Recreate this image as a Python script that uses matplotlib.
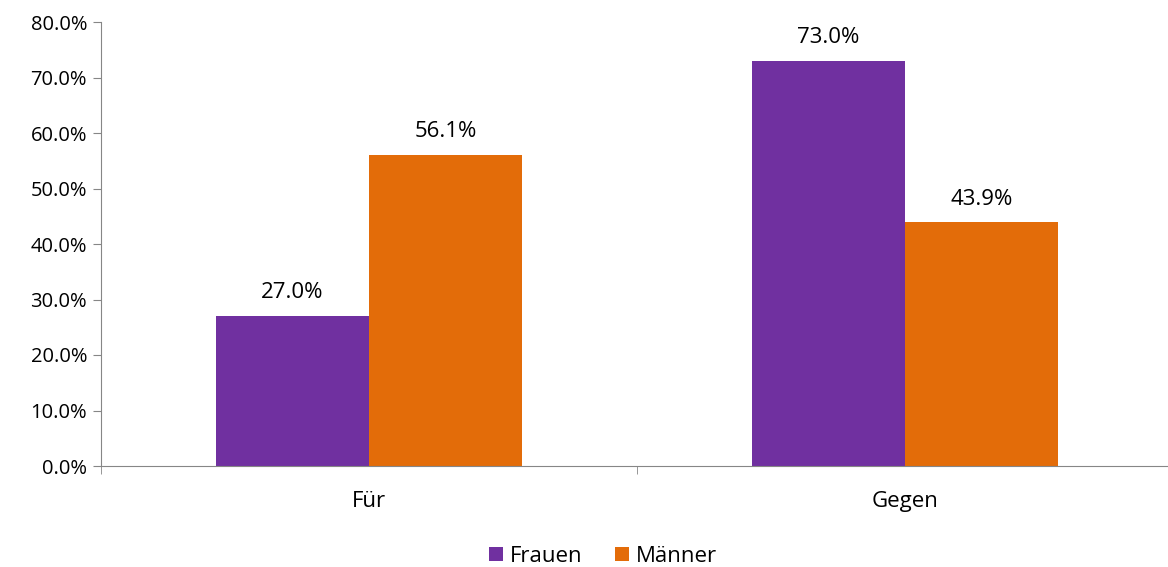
import numpy as np
import matplotlib.pyplot as plt

categories = ["Für", "Gegen"]
series_names = ["Frauen", "Männer"]
frauen = [27.0, 73.0]
maenner = [56.1, 43.9]
colors = ["#7030A0", "#E36C09"]

plt.rcParams['font.family'] = ['Open Sans', 'DejaVu Sans']

fig = plt.figure(figsize=(11.68, 5.67), dpi=100)
ax = fig.add_axes([101 / 1168, 101 / 567, 1072 / 1168, 444 / 567])

x = np.arange(len(categories))
w = 0.2855
for i, (vals, name) in enumerate(zip([frauen, maenner], series_names)):
    pos = x + (i - 0.5) * w
    ax.bar(pos, vals, width=w, color=colors[i], label=name)
    for p, v in zip(pos, vals):
        ax.text(p, v + 2.3, f"{v:.1f}%", ha="center", va="bottom", fontsize=16)

ax.set_xlim(-0.5, len(categories) - 0.5)
ax.set_ylim(0, 80)
ax.set_yticks(np.arange(0, 81, 10))
ax.set_yticklabels([f"{t:.1f}%" for t in np.arange(0, 81, 10)], fontsize=14.5)
ax.set_xticks(x)
ax.set_xticklabels(categories, fontsize=16)
ax.tick_params(axis="x", length=0, pad=18)
ax.set_xticks(np.arange(-0.5, len(categories)), minor=True)
ax.tick_params(axis="x", which="minor", length=6, color="#868686")
ax.tick_params(axis="y", length=6, color="#868686", pad=4)

for s in ["top", "right"]:
    ax.spines[s].set_visible(False)
for s in ["left", "bottom"]:
    ax.spines[s].set_color("#868686")

fig.legend(loc="center", bbox_to_anchor=(603 / 1168, 11 / 567), ncol=2, frameon=False,
           fontsize=16, handlelength=0.6, handleheight=0.6, handletextpad=0.3,
           columnspacing=1.5)

fig.savefig("out.png", dpi=100)
